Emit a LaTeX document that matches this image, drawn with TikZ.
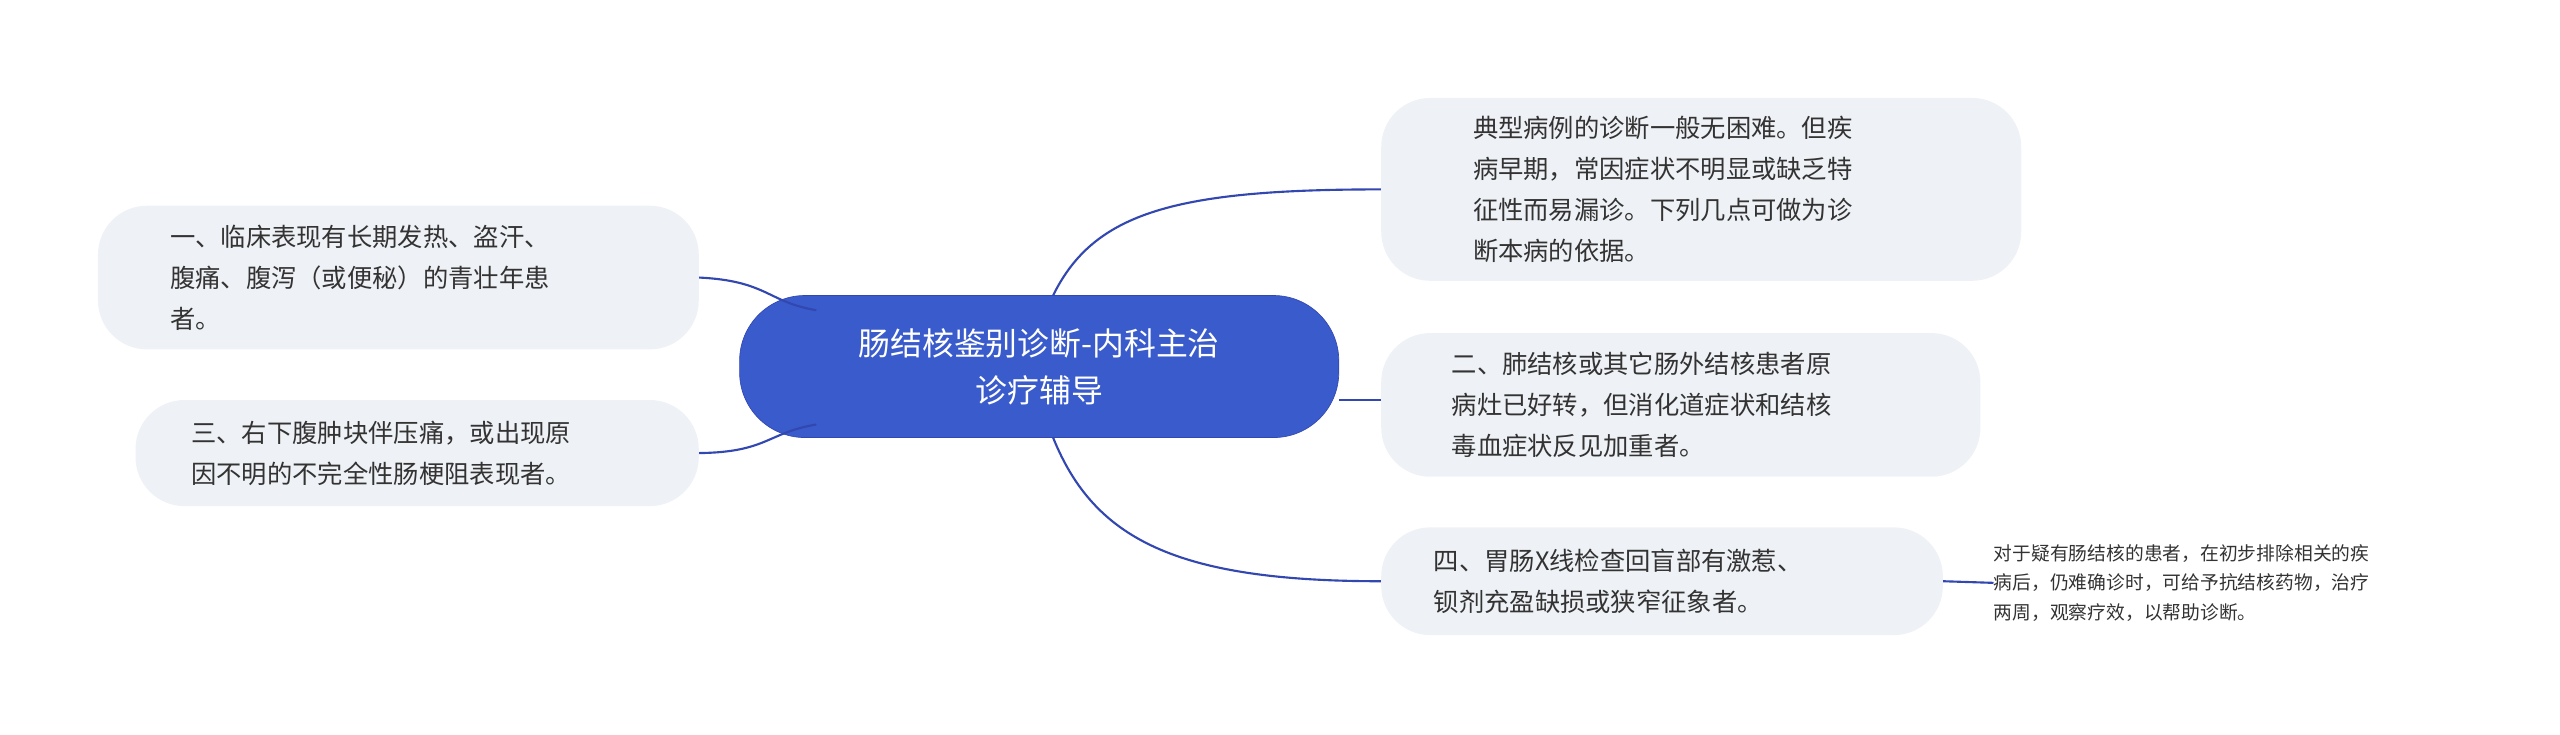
\documentclass[tikz,border=0pt]{standalone}
\usepackage{fontspec}
\setmainfont{Noto Sans CJK SC}
\definecolor{cblue}{HTML}{3A5BCB}
\definecolor{lblue}{HTML}{3347B0}
\definecolor{boxg}{HTML}{EEF1F5}
\definecolor{txt}{HTML}{333333}
\begin{document}
\begin{tikzpicture}[x=1pt,y=-1pt,
  leaf/.style={fill=boxg,rounded corners=30pt,text=txt,font=\fontsize{15.5}{25}\selectfont,align=left,inner sep=0pt},
  conn/.style={draw=lblue,line width=1.3pt}]
\useasboundingbox (0,0) rectangle (1568,450);
\node[fill=cblue,draw=lblue,rounded corners=40pt,minimum width=367pt,minimum height=87pt,text=white,font=\fontsize{19.5}{29}\selectfont,align=center] (c) at (636.5,224.5) {肠结核鉴别诊断-内科主治\\诊疗辅导};
\node[leaf,minimum width=368pt,minimum height=88pt] (l1) at (244,170) {};
\node[leaf,anchor=west,text width=290pt] at (104,170) {一、临床表现有长期发热、盗汗、\\腹痛、腹泻（或便秘）的青壮年患\\者。};
\node[leaf,minimum width=345pt,minimum height=65pt] (l2) at (255.5,277.5) {};
\node[leaf,anchor=west] at (117,277.5) {三、右下腹肿块伴压痛，或出现原\\因不明的不完全性肠梗阻表现者。};
\node[leaf,minimum width=392pt,minimum height=112pt] (r1) at (1042,116) {};
\node[leaf,anchor=west] at (902,116) {典型病例的诊断一般无困难。但疾\\病早期，常因症状不明显或缺乏特\\征性而易漏诊。下列几点可做为诊\\断本病的依据。};
\node[leaf,minimum width=367pt,minimum height=88pt] (r2) at (1029.5,248) {};
\node[leaf,anchor=west] at (889,248) {二、肺结核或其它肠外结核患者原\\病灶已好转，但消化道症状和结核\\毒血症状反见加重者。};
\node[leaf,minimum width=344pt,minimum height=66pt] (r3) at (1018,356) {};
\node[leaf,anchor=west] at (878,356) {四、胃肠X线检查回盲部有激惹、\\钡剂充盈缺损或狭窄征象者。};
\node[anchor=west,text=txt,font=\fontsize{11.5}{18}\selectfont,align=left,inner sep=0pt] (n) at (1221,357) {对于疑有肠结核的患者，在初步排除相关的疾\\病后，仍难确诊时，可给予抗结核药物，治疗\\两周，观察疗效，以帮助诊断。};
\draw[conn] (l1.east) .. controls (470,172) and (470,185) .. (500,190);
\draw[conn] (l2.east) .. controls (470,277) and (470,265) .. (500,260);
\draw[conn] (645,181) .. controls (670,130) and (720,116) .. (r1.west);
\draw[conn] (c.east |- 0,245) -- (r2.west |- 0,245);
\draw[conn] (645,268) .. controls (670,330) and (720,356) .. (r3.west);
\draw[conn] (r3.east) -- (n.west);
\end{tikzpicture}
\end{document}
